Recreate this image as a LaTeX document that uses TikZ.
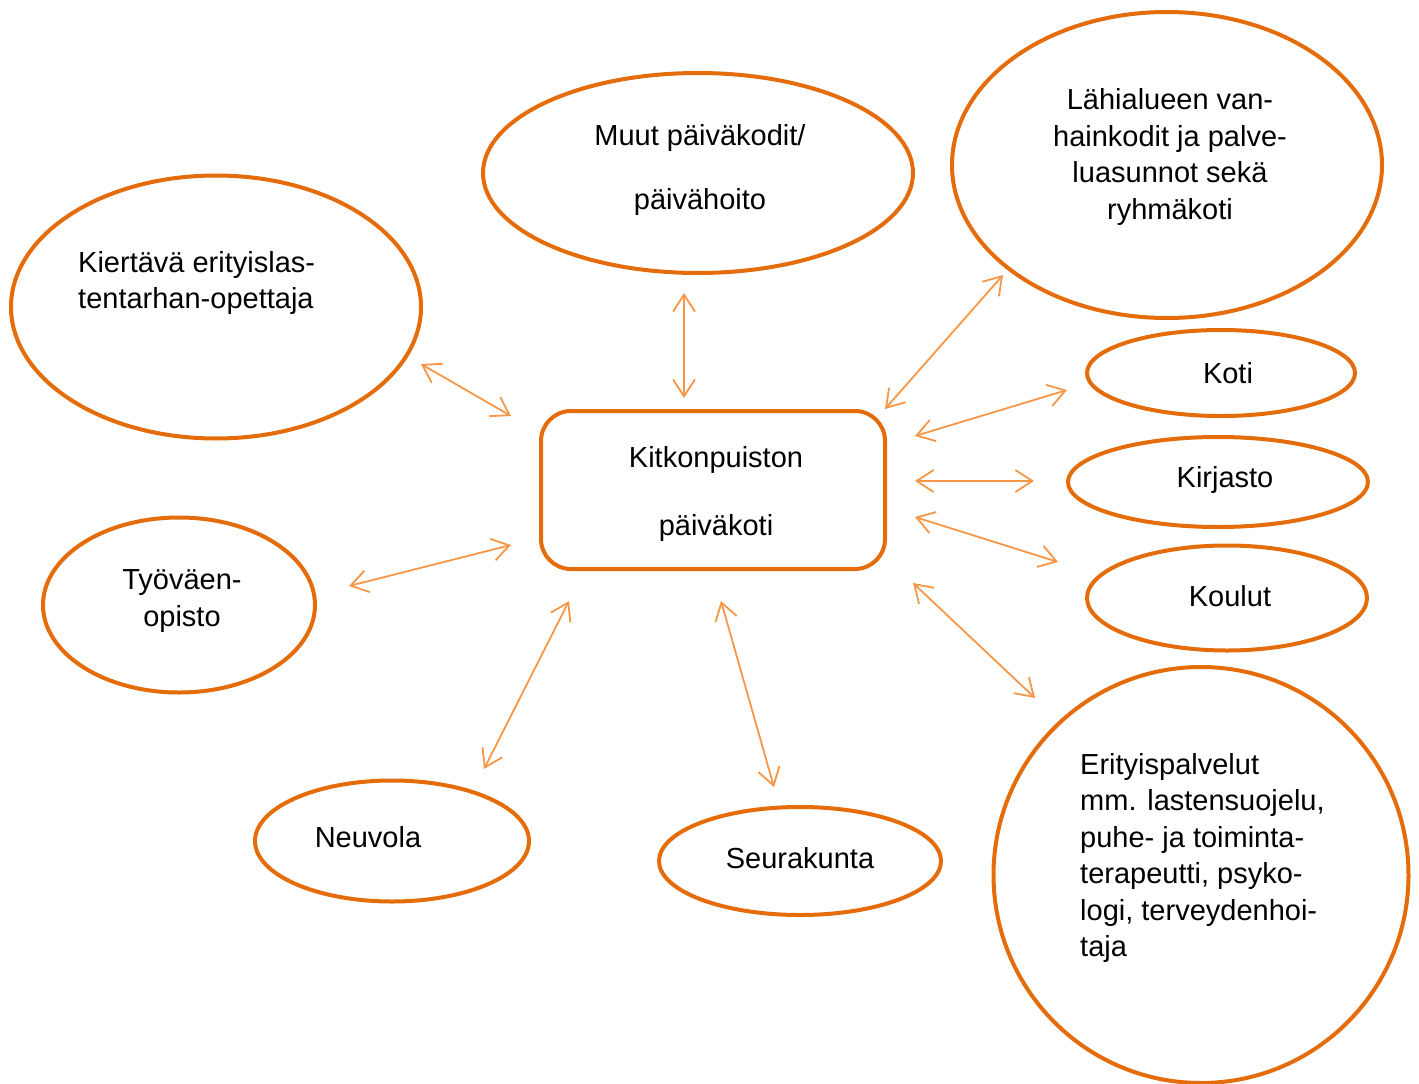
\documentclass[tikz,border=0pt]{standalone}
\usepackage{fontspec}
\setmainfont{Liberation Sans}
\usetikzlibrary{shapes.geometric,arrows.meta}
\definecolor{shapeorange}{HTML}{E46C0A}
\definecolor{arroworange}{HTML}{F79646}
\begin{document}
\begin{tikzpicture}[x=1pt,y=-1pt,
  oval/.style={draw=shapeorange,line width=4pt,ellipse,inner sep=0pt},
  centerbox/.style={draw=shapeorange,line width=4pt,rounded corners=30pt,inner sep=0pt,minimum width=344pt,minimum height=158pt},
  txt/.style={font=\fontsize{29}{36.5}\selectfont,inner sep=0pt,align=center},
  txtl/.style={font=\fontsize{29}{36.5}\selectfont,inner sep=0pt,align=left},
  link/.style={draw=arroworange,line width=1.8pt,{Straight Barb[length=17pt,width=22pt]}-{Straight Barb[length=17pt,width=22pt]}}
]
\useasboundingbox (0,0) rectangle (1419,1084);

% shapes
\node[oval,minimum width=430pt,minimum height=200pt] (muut) at (698,173) {};
\node[oval,minimum width=430pt,minimum height=306pt] (lahi) at (1167,165) {};
\node[oval,minimum width=410pt,minimum height=263pt] (kierta) at (216,307) {};
\node[centerbox] (kitko) at (713,490) {};
\node[oval,minimum width=268pt,minimum height=86pt] (koti) at (1221,373) {};
\node[oval,minimum width=300pt,minimum height=90pt] (kirja) at (1218,482) {};
\node[oval,minimum width=280pt,minimum height=105pt] (koulu) at (1227,598) {};
\node[oval,minimum width=415pt,minimum height=416pt] (erity) at (1201,875) {};
\node[oval,minimum width=272pt,minimum height=175pt] (tyova) at (179,605) {};
\node[oval,minimum width=274pt,minimum height=121pt] (neuvo) at (392,841) {};
\node[oval,minimum width=282pt,minimum height=108pt] (seura) at (800,861) {};

% texts
\node[txt,font=\fontsize{29}{64}\selectfont] (tmuut) at (700,170) {Muut päiväkodit/\\päivähoito};
\node[txt] (tlahi) at (1170,157) {Lähialueen van-\\hainkodit ja palve-\\luasunnot sekä\\ryhmäkoti};
\node[txtl,anchor=west] (tkierta) at (78,283) {Kiertävä erityislas-\\tentarhan-opettaja};
\node[txt,font=\fontsize{29}{68}\selectfont] (tkitko) at (716,494) {Kitkonpuiston\\päiväkoti};
\node[txt] (tkoti) at (1228,373) {Koti};
\node[txt] (tkirja) at (1225,480) {Kirjasto};
\node[txt] (tkoulu) at (1230,596) {Koulut};
\node[txtl,anchor=west] (terity) at (1080,858) {Erityispalvelut\\mm. lastensuojelu,\\puhe- ja toiminta-\\terapeutti, psyko-\\logi, terveydenhoi-\\taja};
\node[txt] (ttyova) at (182,601) {Työväen-\\opisto};
\node[txt] (tneuvo) at (368,837) {Neuvola};
\node[txt] (tseura) at (800,858) {Seurakunta};

% connector end points
\coordinate (a1) at (684,293); \coordinate (b1) at (684,398);
\coordinate (a2) at (421,364); \coordinate (b2) at (511,416);
\coordinate (a3) at (1003,275); \coordinate (b3) at (885,409);
\coordinate (a4) at (1067,390); \coordinate (b4) at (915,436);
\coordinate (a5) at (1034,481); \coordinate (b5) at (915,481);
\coordinate (a6) at (1058,562); \coordinate (b6) at (915,517);
\coordinate (a7) at (1035,698); \coordinate (b7) at (913,583);
\coordinate (a8) at (349,586); \coordinate (b8) at (511,545);
\coordinate (a9) at (484,769); \coordinate (b9) at (569,601);
\coordinate (a10) at (774,787); \coordinate (b10) at (721,601);

\foreach \i in {1,...,10} \draw[link] (a\i) -- (b\i);
\end{tikzpicture}
\end{document}
